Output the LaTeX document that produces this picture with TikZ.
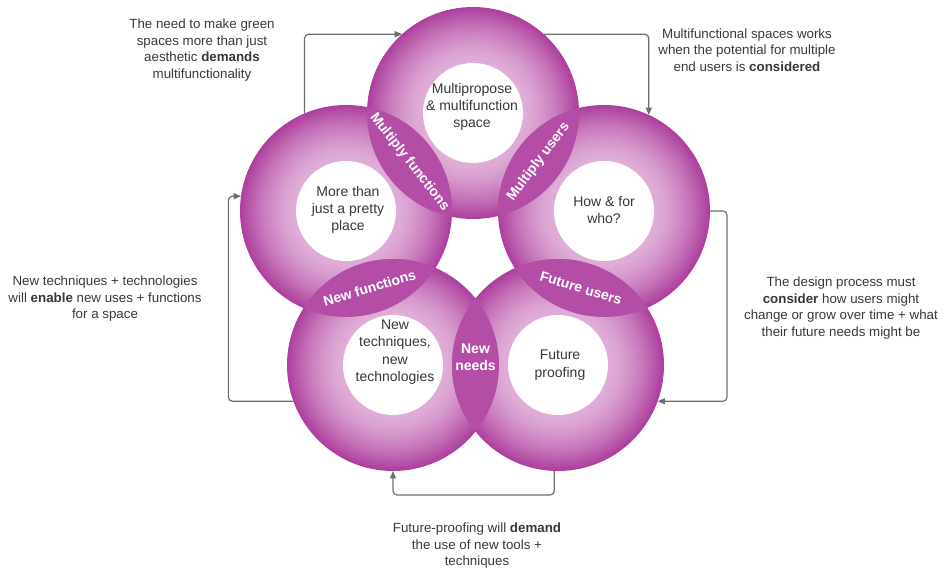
\documentclass[tikz,border=0pt]{standalone}
\usepackage{fontspec}
\setmainfont{Liberation Sans}
\usetikzlibrary{arrows.meta,calc,positioning}

\definecolor{ringdark}{HTML}{AE409E}
\definecolor{ringlight}{HTML}{E0AED8}
\definecolor{lensfill}{HTML}{B44DA6}
\definecolor{linegrey}{HTML}{6E6E6E}
\definecolor{textgrey}{HTML}{383838}

\begin{document}
\begin{tikzpicture}[
    x=0.75pt, y=-0.75pt,
    ring/.style={circle, minimum size=159pt, inner sep=0pt, outer sep=0pt},
    hub/.style={circle, fill=white, minimum size=75pt, inner sep=0pt},
    hubtext/.style={align=center, text=textgrey, font=\fontsize{10.5}{13}\selectfont},
    lens/.style={fill=lensfill},
    lenslabel/.style={text=white, align=center, inner sep=1pt, font=\fontsize{10.5}{12.5}\selectfont\bfseries},
    note/.style={align=center, text=textgrey, font=\fontsize{10}{12.4}\selectfont},
    link/.style={draw=linegrey, line width=0.9pt, rounded corners=3pt, -{Triangle[length=5.5pt,width=4.5pt]}}
  ]
    \useasboundingbox (0,0) rectangle (946,570);

    % Rings
    \node[ring] (ringT) at (473,113) {};
    \node[ring] (ringL) at (346,211) {};
    \node[ring] (ringR) at (604,211) {};
    \node[ring] (ringBL) at (393,365) {};
    \node[ring] (ringBR) at (558,365) {};
    \foreach \c in {ringT,ringL,ringR,ringBL,ringBR}{
      \foreach \k in {0,...,30}{
        \pgfmathsetmacro\rad{79.5-\k*1.4}
        \pgfmathsetmacro\pct{100*(1-\k/30)*sqrt(1-\k/30)}
        \fill[ringdark!\pct!ringlight] (\c.center) circle (\rad pt);
      }
    }

    % Overlaps
    \begin{scope}
      \clip (ringT.center) circle (79.5pt);
      \fill[lens] (ringL.center) circle (79.5pt);
      \fill[lens] (ringR.center) circle (79.5pt);
    \end{scope}
    \begin{scope}
      \clip (ringBL.center) circle (79.5pt);
      \fill[lens] (ringL.center) circle (79.5pt);
      \fill[lens] (ringBR.center) circle (79.5pt);
    \end{scope}
    \begin{scope}
      \clip (ringBR.center) circle (79.5pt);
      \fill[lens] (ringR.center) circle (79.5pt);
    \end{scope}

    % Centres
    \node[hub] (hubT) at (ringT) {};
    \node[hub] (hubL) at (ringL) {};
    \node[hub] (hubR) at (ringR) {};
    \node[hub] (hubBL) at (ringBL) {};
    \node[hub] (hubBR) at (ringBR) {};
    \node[hubtext] (txtT) at ($(hubT)+(-1,-6)$) {Multipropose\\\& multifunction\\space};
    \node[hubtext] (txtL) at ($(hubL)+(2,-1)$) {More than\\just a pretty\\place};
    \node[hubtext] (txtR) at ($(hubR)+(0,-1)$) {How \& for\\who?};
    \node[hubtext] (txtBL) at ($(hubBL)+(2,-13)$) {New\\techniques,\\new\\technologies};
    \node[hubtext] (txtBR) at ($(hubBR)+(2,0)$) {Future\\proofing};

    % Overlap labels
    \node[lenslabel, rotate=-52] (lensTL) at ($(ringL)!0.5!(ringT)$) {Multiply functions};
    \node[lenslabel, rotate=53] (lensTR) at ($(ringT)!0.5!(ringR)$) {Multiply users};
    \node[lenslabel, rotate=17] (lensL) at ($(ringL)!0.5!(ringBL)$) {New functions};
    \node[lenslabel, rotate=-17] (lensR) at ($(ringR)!0.5!(ringBR)$) {Future users};
    \node[lenslabel] (lensB) at ($(ringBL)!0.5!(ringBR)+(0,-8)$) {New\\needs};

    % Notes
    \node[note] (noteTL) at (202,50) {The need to make green\\spaces more than just\\aesthetic \textbf{demands}\\multifunctionality};
    \node[note] (noteTR) at (747,50) {Multifunctional spaces works\\when the potential for multiple\\end users is \textbf{considered}};
    \node[note] (noteL) at (105,299) {New techniques + technologies\\will \textbf{enable} new uses + functions\\for a space};
    \node[note] (noteR) at (841,308) {The design process must\\\textbf{consider} how users might\\change or grow over time + what\\their future needs might be};
    \node[note] (noteB) at (477,546) {Future-proofing will \textbf{demand}\\the use of new tools +\\techniques};

    % Cycle
    \draw[link] (ringL.113) |- (ringT.132);
    \draw[link] (ringT.48) -| (ringR.65);
    \draw[link] (ringR.east) -- ++(17,0) |- (ringBR.-20);
    \draw[link] (ringBR.268) -- ++(0,24) -| (ringBL.south);
    \draw[link] (ringBL.200) -- ++(-65,0) |- (ringL.172);
\end{tikzpicture}
\end{document}
